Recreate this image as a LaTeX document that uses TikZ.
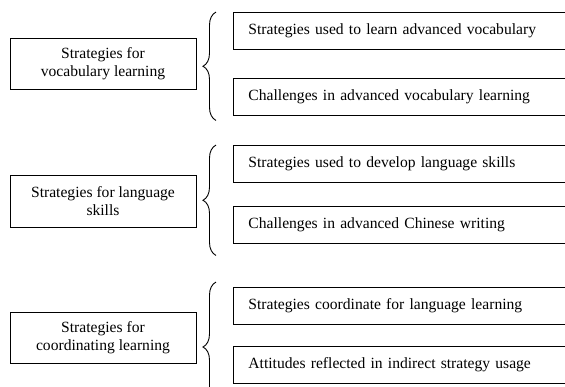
\documentclass[tikz,border=0pt]{standalone}
\usepackage{fontspec}
\setmainfont{Liberation Serif}
\usetikzlibrary{calc,decorations.pathreplacing}

\begin{document}
\begin{tikzpicture}[x=1pt,y=-1pt,line width=0.9pt,
  font=\fontsize{15.6}{18.5}\selectfont,
  leftbox/.style={draw,rectangle,minimum width=186pt,minimum height=51pt,align=center,inner sep=0pt},
  itembox/.style={draw,rectangle,anchor=west,text width=337pt,minimum height=37pt,align=left,inner xsep=15pt,inner ysep=0pt},
  curly/.style={decorate,decoration={brace,amplitude=13pt}}]
\useasboundingbox (0,0) rectangle (565,387);
\clip (0,0) rectangle (565,387);

% vocabulary
\node[leftbox] (vocab) at (103,63.5) {Strategies for\\vocabulary learning};
\node[itembox] (vocabA) at (233,31) {\makebox[308pt][s]{Strategies used to learn advanced vocabulary}};
\node[itembox] (vocabB) at (233,96.5) {Challenges in advanced vocabulary learning};
\draw[curly] ($(vocabB.south west)+(-17,5)$) -- ($(vocabA.north west)+(-17,0)$);

% language skills
\node[leftbox,minimum height=52pt] (skills) at (103,201) {Strategies for language\\skills};
\node[itembox] (skillsA) at (233,164) {Strategies used to develop language skills};
\node[itembox] (skillsB) at (233,224.5) {Challenges in advanced Chinese writing};
\draw[curly] ($(skillsB.south west)+(-17,12)$) -- ($(skillsA.north west)+(-17,0)$);

% coordinating
\node[leftbox] (coord) at (103,337.5) {Strategies for\\coordinating learning};
\node[itembox] (coordA) at (233,306) {Strategies coordinate for language learning};
\node[itembox] (coordB) at (233,365) {Attitudes reflected in indirect strategy usage};
\draw[curly] ($(coordB.south west)+(-17,28)$) -- ($(coordA.north west)+(-17,-5)$);
\end{tikzpicture}
\end{document}
